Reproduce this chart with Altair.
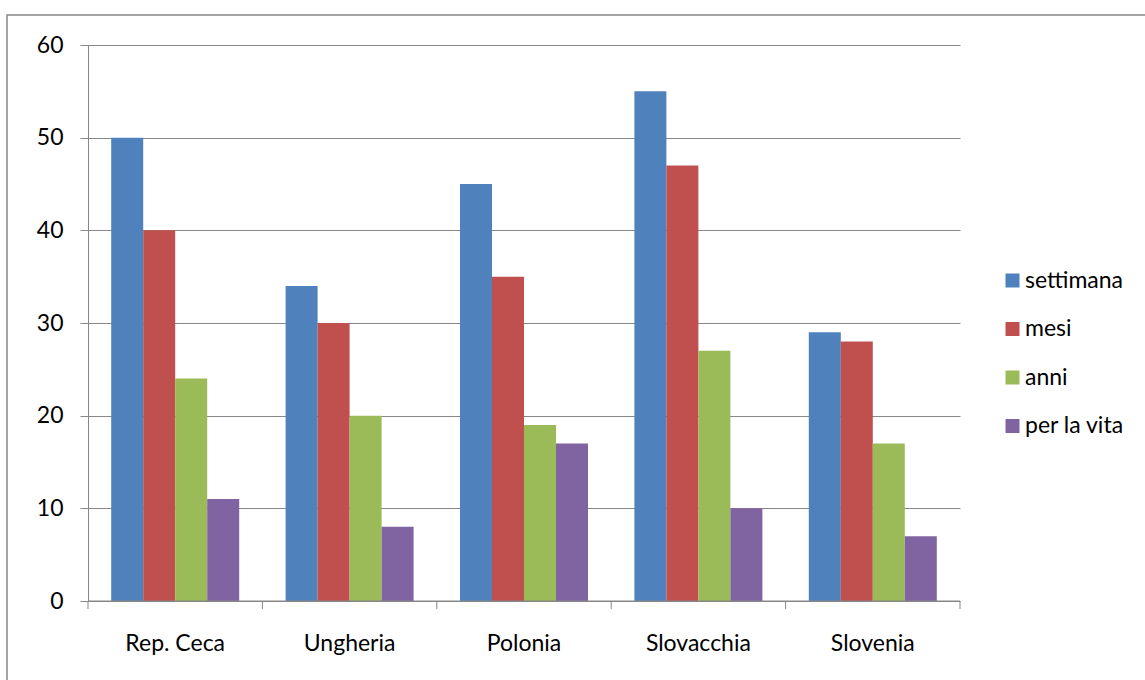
import altair as alt
import pandas as pd

countries = ["Rep. Ceca", "Ungheria", "Polonia", "Slovacchia", "Slovenia"]
periods = ["settimana", "mesi", "anni", "per la vita"]
settimana = [50, 34, 45, 55, 29]
mesi = [40, 30, 35, 47, 28]
anni = [24, 20, 19, 27, 17]
per_la_vita = [11, 8, 17, 10, 7]
colors = ["#4F81BD", "#C0504D", "#9BBB59", "#8064A2"]

series = [settimana, mesi, anni, per_la_vita]
rows = []
for p, vals in zip(periods, series):
    for c, v in zip(countries, vals):
        rows.append({"paese": c, "periodo": p, "valore": v})
df = pd.DataFrame(rows)

W, H = 872, 556
FONT = "Lato"
FS = 23
GRAY = "#878787"

bars = alt.Chart(df).mark_bar().encode(
    x=alt.X("paese:N", sort=countries, title=None,
            scale=alt.Scale(paddingInner=0, paddingOuter=0),
            axis=alt.Axis(labelAngle=0, ticks=False, domain=False,
                          labelFontSize=FS, labelFont=FONT, labelColor="#000000",
                          labelPadding=31)),
    xOffset=alt.XOffset("periodo:N", sort=periods,
                        scale=alt.Scale(paddingInner=0, paddingOuter=0.725)),
    y=alt.Y("valore:Q", title=None,
            scale=alt.Scale(domain=[0, 60], nice=False),
            axis=alt.Axis(values=[0, 10, 20, 30, 40, 50, 60], tickSize=8,
                          tickColor=GRAY, domainColor=GRAY, gridColor=GRAY,
                          labelFontSize=FS, labelFont=FONT, labelColor="#000000",
                          labelPadding=17)),
    color=alt.Color("periodo:N", sort=periods,
                    scale=alt.Scale(domain=periods, range=colors),
                    legend=alt.Legend(title=None, orient="none", legendX=913,
                                      legendY=224, symbolType="square",
                                      symbolSize=196, symbolStrokeWidth=0,
                                      labelFontSize=FS, labelFont=FONT,
                                      labelColor="#000000", rowPadding=24.5,
                                      labelOffset=1)),
)

# category boundary ticks below the x axis line
bounds = pd.DataFrame({"b": list(range(len(countries) + 1))})
ticks = alt.Chart(bounds).mark_rule(color=GRAY, strokeWidth=1).encode(
    x=alt.X("b:Q", scale=alt.Scale(domain=[0, len(countries)], nice=False), axis=None),
    y=alt.value(H),
    y2=alt.value(H + 8),
)
baseline = alt.Chart(pd.DataFrame({"a": [0]})).mark_rule(color=GRAY).encode(
    x=alt.value(0), x2=alt.value(W), y=alt.value(H)
)

frame = alt.Chart(pd.DataFrame({"a": [0]})).mark_rect(
    fill=None, stroke=GRAY, strokeWidth=1.5
).encode(
    x=alt.value(-81), x2=alt.value(1145), y=alt.value(-30), y2=alt.value(700)
)

chart = alt.layer(frame, bars, baseline, ticks).resolve_scale(x="independent").properties(
    width=W, height=H,
    autosize=alt.AutoSizeParams(type="none"),
    padding={"left": 88, "top": 45, "right": 185, "bottom": 79},
    background="white",
).configure_view(stroke=None)

chart.save("out.html", embed_options={"renderer": "svg", "actions": False})
